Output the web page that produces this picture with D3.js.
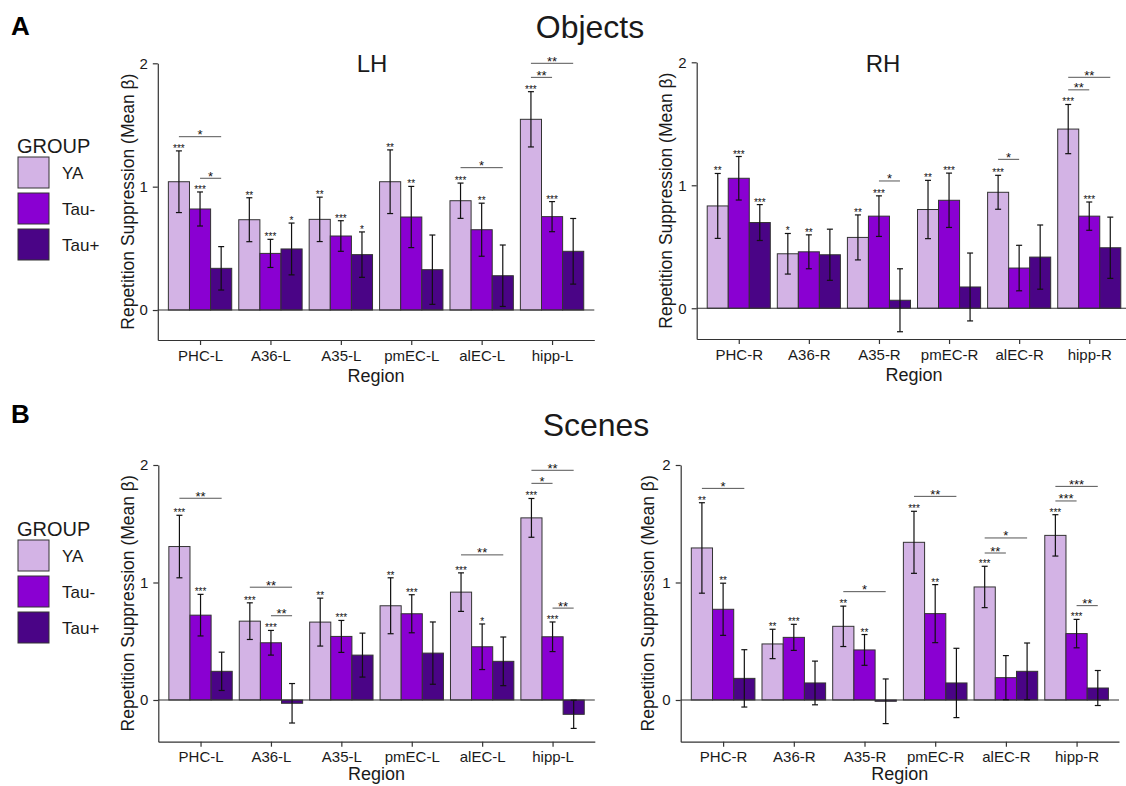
<!DOCTYPE html>
<html><head><meta charset="utf-8">
<script src="https://cdn.jsdelivr.net/npm/d3@7"></script>
<style>
body{margin:0;background:#fff}
svg{display:block}
text{font-family:"Liberation Sans",Arial,Helvetica,sans-serif}
</style>
</head><body>
<svg id="c" width="1126" height="786"></svg>
<script>
// ---------------- DATA ----------------
const groups = ["YA", "Tau-", "Tau+"];
const groupColors = ["#d3b3e5", "#8a00d2", "#4a0486"];
const regionsL = ["PHC-L", "A36-L", "A35-L", "pmEC-L", "alEC-L", "hipp-L"];
const regionsR = ["PHC-R", "A36-R", "A35-R", "pmEC-R", "alEC-R", "hipp-R"];
const yTicks = [0, 1, 2];

// Objects, LH: mean beta per region [YA, Tau-, Tau+]
const objLH_mean = [[1.04,0.819,0.338],[0.732,0.459,0.495],[0.735,0.60,0.449],[1.04,0.754,0.327],[0.886,0.651,0.278],[1.546,0.757,0.476]];
const objLH_se   = [[0.25,0.138,0.176],[0.178,0.114,0.21],[0.18,0.124,0.184],[0.258,0.248,0.281],[0.143,0.215,0.249],[0.224,0.122,0.266]];
const objLH_stars = [["***","***",""],["**","***","*"],["**","***","*"],["**","**",""],["***","**",""],["***","***",""]];
const objLH_brackets = [[0,0,2,1.405,"*"],[0,1,2,1.068,"*"],[4,0,2,1.154,"*"],[5,0,1,1.886,"**"],[5,0,2,2.0,"**"]];

// Objects, RH
const objRH_mean = [[0.832,1.057,0.697],[0.443,0.459,0.435],[0.576,0.749,0.065],[0.803,0.878,0.173],[0.943,0.327,0.416],[1.457,0.749,0.492]];
const objRH_se   = [[0.264,0.177,0.146],[0.165,0.138,0.208],[0.183,0.165,0.256],[0.237,0.221,0.276],[0.138,0.185,0.261],[0.20,0.115,0.249]];
const objRH_stars = [["**","***","***"],["*","**",""],["**","***",""],["**","***",""],["***","",""],["***","***",""]];
const objRH_brackets = [[2,1,2,1.035,"*"],[4,0,1,1.211,"*"],[5,0,1,1.776,"**"],[5,0,2,1.878,"**"]];

// Scenes, LH
const scnLH_mean = [[1.306,0.722,0.244],[0.671,0.487,-0.028],[0.663,0.541,0.382],[0.802,0.734,0.399],[0.918,0.453,0.329],[1.55,0.538,-0.122]];
const scnLH_se   = [[0.266,0.177,0.163],[0.156,0.105,0.168],[0.204,0.136,0.187],[0.238,0.162,0.265],[0.164,0.194,0.207],[0.165,0.126,0.12]];
const scnLH_stars = [["***","***",""],["***","***",""],["**","***",""],["**","***",""],["***","*",""],["***","***",""]];
const scnLH_brackets = [[0,0,2,1.717,"**"],[1,0,2,0.96,"**"],[1,1,2,0.717,"**"],[4,0,2,1.235,"**"],[5,0,1,1.844,"*"],[5,0,2,1.955,"**"],[5,1,2,0.782,"**"]];

// Scenes, RH
const scnRH_mean = [[1.294,0.772,0.184],[0.477,0.533,0.145],[0.627,0.426,-0.011],[1.342,0.735,0.145],[0.962,0.19,0.244],[1.401,0.565,0.102]];
const scnRH_se   = [[0.385,0.222,0.244],[0.125,0.111,0.186],[0.172,0.131,0.19],[0.264,0.247,0.295],[0.176,0.188,0.241],[0.176,0.121,0.149]];
const scnRH_stars = [["**","**",""],["**","***",""],["**","**",""],["***","**",""],["***","",""],["***","***",""]];
const scnRH_brackets = [[0,0,2,1.801,"*"],[2,0,2,0.922,"*"],[3,0,2,1.733,"**"],[4,0,1,1.251,"**"],[4,0,2,1.379,"*"],[5,0,1,1.694,"***"],[5,0,2,1.818,"***"],[5,1,2,0.803,"**"]];

// ---------------- LAYOUT ----------------
const svg = d3.select("#c");
const ink = "#1a1a1a";

const panels = [
  {regions: regionsL, mean: objLH_mean, se: objLH_se, stars: objLH_stars, brackets: objLH_brackets,
   left: 157.8, right: 594.3, top: 63.3, bottom: 340, yMin: -0.243, yTitleX: 128, regionDy: 42, sub: "LH", subX: 372, subY: 72},
  {regions: regionsR, mean: objRH_mean, se: objRH_se, stars: objRH_stars, brackets: objRH_brackets,
   left: 696.7, right: 1131.3, top: 62.3, bottom: 339, yMin: -0.25, yTitleX: 666, regionDy: 42, sub: "RH", subX: 883, subY: 72},
  {regions: regionsL, mean: scnLH_mean, se: scnLH_se, stars: scnLH_stars, brackets: scnLH_brackets,
   left: 158.3, right: 594.8, top: 465, bottom: 741.7, yMin: -0.355, yTitleX: 128, regionDy: 38.5},
  {regions: regionsR, mean: scnRH_mean, se: scnRH_se, stars: scnRH_stars, brackets: scnRH_brackets,
   left: 680.7, right: 1119, top: 465, bottom: 741.7, yMin: -0.355, yTitleX: 648, regionDy: 38.5}
];

function drawPanel(p) {
  const g = svg.append("g");
  const x = d3.scalePoint().domain(p.regions).range([p.left, p.right]).padding(0.6);
  const step = x.step();
  const xg = d3.scaleBand().domain(groups).range([-0.45 * step, 0.45 * step]).padding(0);
  const bw = xg.bandwidth();
  const y = d3.scaleLinear().domain([p.yMin, 2]).range([p.bottom, p.top]);

  const rows = [];
  p.regions.forEach((r, i) => groups.forEach((gr, j) => {
    rows.push({r, gr, j, m: p.mean[i][j], se: p.se[i][j], star: p.stars[i][j]});
  }));

  // bars
  g.selectAll("rect.bar").data(rows).join("rect")
    .attr("x", d => x(d.r) + xg(d.gr))
    .attr("y", d => Math.min(y(d.m), y(0)))
    .attr("width", bw)
    .attr("height", d => Math.abs(y(d.m) - y(0)))
    .attr("fill", d => groupColors[d.j])
    .attr("stroke", "#333").attr("stroke-width", 1);

  // zero line
  g.append("line").attr("x1", p.left).attr("x2", p.right)
    .attr("y1", y(0)).attr("y2", y(0)).attr("stroke", "#333").attr("stroke-width", 1.2);

  // error bars
  const cx = d => x(d.r) + xg(d.gr) + bw / 2;
  const eb = g.selectAll("g.eb").data(rows).join("g");
  eb.append("line").attr("x1", cx).attr("x2", cx)
    .attr("y1", d => y(d.m - d.se)).attr("y2", d => y(d.m + d.se));
  eb.append("line").attr("x1", d => cx(d) - 3).attr("x2", d => cx(d) + 3)
    .attr("y1", d => y(d.m - d.se)).attr("y2", d => y(d.m - d.se));
  eb.append("line").attr("x1", d => cx(d) - 3).attr("x2", d => cx(d) + 3)
    .attr("y1", d => y(d.m + d.se)).attr("y2", d => y(d.m + d.se));
  eb.selectAll("line").attr("stroke", "#111").attr("stroke-width", 1.2);

  // per-bar stars
  g.selectAll("text.st").data(rows.filter(d => d.star)).join("text")
    .attr("x", cx).attr("y", d => y(d.m + d.se) + 1)
    .attr("text-anchor", "middle").attr("font-size", 10).attr("fill", "#111")
    .text(d => d.star);

  // comparison brackets
  const bc = (ri, gj) => x(p.regions[ri]) + xg(groups[gj]) + bw / 2;
  p.brackets.forEach(b => {
    const [ri, g1, g2, v, lab] = b;
    g.append("line").attr("x1", bc(ri, g1)).attr("x2", bc(ri, g2))
      .attr("y1", y(v)).attr("y2", y(v)).attr("stroke", "#555").attr("stroke-width", 1);
    g.append("text").attr("x", (bc(ri, g1) + bc(ri, g2)) / 2).attr("y", y(v) + 2.5)
      .attr("text-anchor", "middle").attr("font-size", 13).attr("fill", "#111").text(lab);
  });

  // axes
  const ya = g.append("g").attr("transform", `translate(${p.left},0)`)
    .call(d3.axisLeft(y).tickValues(yTicks).tickFormat(d3.format("d")).tickSize(5).tickSizeOuter(0).tickPadding(5));
  const xa = g.append("g").attr("transform", `translate(0,${p.bottom})`)
    .call(d3.axisBottom(x).tickSize(5).tickSizeOuter(0).tickPadding(5));
  [ya, xa].forEach(a => {
    a.attr("font-size", 15).attr("font-family", '"Liberation Sans",Arial,Helvetica,sans-serif');
    a.select(".domain").attr("stroke", "#333").attr("stroke-width", 1.2);
    a.selectAll(".tick line").attr("stroke", "#333").attr("stroke-width", 1.2);
    a.selectAll(".tick text").attr("fill", ink);
  });

  // axis titles
  g.append("text")
    .attr("x", x(p.regions[2]) / 2 + x(p.regions[3]) / 2)
    .attr("y", p.bottom + p.regionDy).attr("text-anchor", "middle")
    .attr("font-size", 18).attr("fill", ink).text("Region");
  g.append("text")
    .attr("transform", `translate(${p.yTitleX},${(p.top + p.bottom) / 2}) rotate(-90)`)
    .attr("text-anchor", "middle").attr("dominant-baseline", "central")
    .attr("font-size", 17.5).attr("fill", ink).text("Repetition Suppression (Mean β)");
  if (p.sub) {
    g.append("text").attr("x", p.subX).attr("y", p.subY).attr("text-anchor", "middle")
      .attr("font-size", 24).attr("fill", ink).text(p.sub);
  }
}
panels.forEach(drawPanel);

// main titles & panel letters
svg.append("text").attr("x", 590).attr("y", 38).attr("text-anchor", "middle")
  .attr("font-size", 32).attr("fill", ink).text("Objects");
svg.append("text").attr("x", 596).attr("y", 436).attr("text-anchor", "middle")
  .attr("font-size", 32).attr("fill", ink).text("Scenes");
svg.append("text").attr("x", 11).attr("y", 35).attr("font-size", 26).attr("font-weight", "bold").attr("fill", "#000").text("A");
svg.append("text").attr("x", 11).attr("y", 423).attr("font-size", 26).attr("font-weight", "bold").attr("fill", "#000").text("B");

// legends
function legend(top) {
  const lg = svg.append("g");
  lg.append("text").attr("x", 17).attr("y", top).attr("font-size", 20).attr("fill", ink).text("GROUP");
  const items = lg.selectAll("g.it").data(groups).join("g")
    .attr("transform", (d, i) => `translate(18,${top + 4 + i * 36})`);
  items.append("rect").attr("width", 31).attr("height", 31)
    .attr("fill", (d, i) => groupColors[i]).attr("stroke", "#333").attr("stroke-width", 1);
  items.append("text").attr("x", 44).attr("y", 16).attr("dominant-baseline", "central")
    .attr("font-size", 17).attr("fill", ink).text(d => d);
}
legend(153);
legend(536);
</script>
</body></html>
